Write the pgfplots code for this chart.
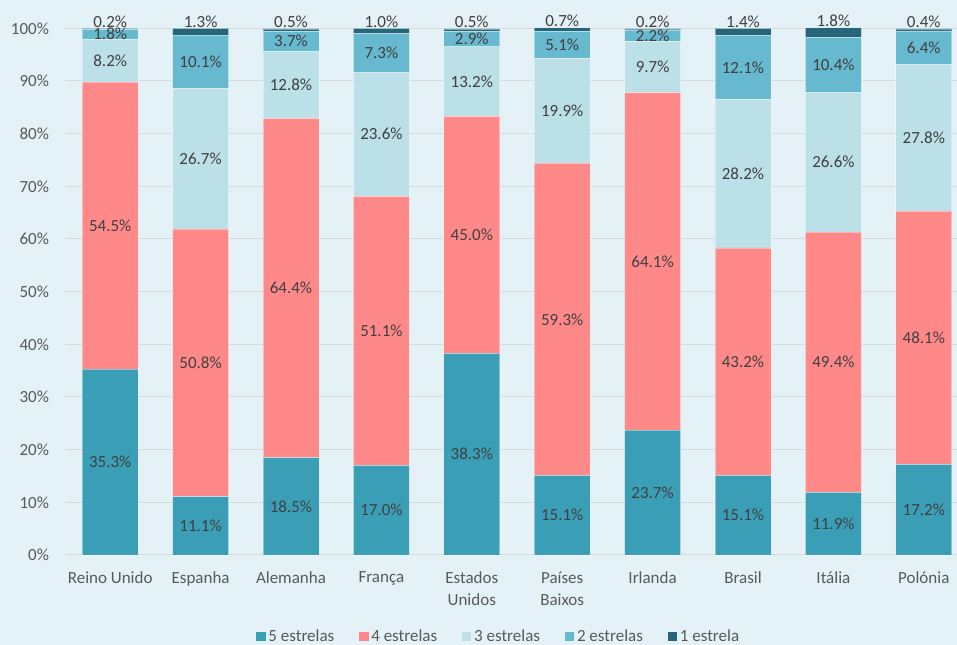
\documentclass[border=0pt]{standalone}
\usepackage{pgfplots}
\pgfplotsset{compat=1.18}
\usepackage{fontspec}
\setmainfont{Carlito}
\definecolor{bgc}{RGB}{228,242,247}
\definecolor{c5}{RGB}{58,159,182}
\definecolor{c4}{RGB}{255,137,137}
\definecolor{c3}{RGB}{188,224,232}
\definecolor{c2}{RGB}{103,185,208}
\definecolor{c1}{RGB}{38,102,122}
\definecolor{gridc}{RGB}{217,217,217}
\definecolor{lblc}{RGB}{64,64,64}
\definecolor{tickc}{RGB}{89,89,89}
\newcommand{\fs}{\fontsize{12.75}{16.5}\selectfont}
\pgfplotsset{
 mid/.style={nodes near coords={\pgfplotspointmeta\%}, point meta=explicit symbolic,
   every node near coord/.append style={anchor=center}},
 top/.style={nodes near coords={\pgfplotspointmeta\%}, point meta=explicit symbolic,
   every node near coord/.append style={anchor=center, yshift=5.1pt+1.975pt*\pgfplotspointmeta}},
}
\begin{document}
\begin{tikzpicture}
\path[use as bounding box, fill=bgc] (-48.75pt,-67.5pt) rectangle (669pt,416.25pt);
\begin{axis}[
 at={(0,0)}, anchor=south west,
 x=67.8pt, y=3.95pt,
 xmin=-0.5, xmax=9.37, ymin=0, ymax=100,
 ybar stacked, bar width=42pt,
 clip=false,
 axis line style={draw=none},
 major tick length=0pt,
 ymajorgrids, grid style={gridc, line width=0.75pt},
 ytick={0,10,20,30,40,50,60,70,80,90,100},
 yticklabels={0\%,10\%,20\%,30\%,40\%,50\%,60\%,70\%,80\%,90\%,100\%},
 xtick={0,1,2,3,4,5,6,7,8,9},
 xticklabels={Reino Unido, Espanha, Alemanha, França, {Estados\\Unidos}, {Países\\Baixos}, Irlanda, Brasil, Itália, Polónia},
 xticklabel style={align=center, font=\fs, text=tickc, yshift=-9pt},
 yticklabel style={font=\fs, text=tickc, xshift=-8.5pt},
 every node near coord/.append style={font=\fs, text=lblc},
 legend style={at={(0.4864,-0.1545)}, anchor=center, draw=none, fill=none,
   legend columns=5, font=\fs, text=tickc,
   /tikz/every even column/.append style={column sep=16.5pt}},
 legend image code/.code={\fill[#1, draw=none] (0pt,-3.6pt) rectangle (7.2pt,3.6pt);},
]
\addplot[fill=c5, draw=white, draw opacity=0.4, line width=0.5pt, mid] coordinates {
 (0,35.3) [35.3] (1,11.1) [11.1] (2,18.5) [18.5] (3,17.0) [17.0] (4,38.3) [38.3]
 (5,15.1) [15.1] (6,23.7) [23.7] (7,15.1) [15.1] (8,11.9) [11.9] (9,17.2) [17.2]};
\addplot[fill=c4, draw=white, draw opacity=0.4, line width=0.5pt, mid] coordinates {
 (0,54.5) [54.5] (1,50.8) [50.8] (2,64.4) [64.4] (3,51.1) [51.1] (4,45.0) [45.0]
 (5,59.3) [59.3] (6,64.1) [64.1] (7,43.2) [43.2] (8,49.4) [49.4] (9,48.1) [48.1]};
\addplot[fill=c3, draw=white, draw opacity=0.4, line width=0.5pt, mid] coordinates {
 (0,8.2) [8.2] (1,26.7) [26.7] (2,12.8) [12.8] (3,23.6) [23.6] (4,13.2) [13.2]
 (5,19.9) [19.9] (6,9.7) [9.7] (7,28.2) [28.2] (8,26.6) [26.6] (9,27.8) [27.8]};
\addplot[fill=c2, draw=white, draw opacity=0.4, line width=0.5pt, mid] coordinates {
 (0,1.8) [1.8] (1,10.1) [10.1] (2,3.7) [3.7] (3,7.3) [7.3] (4,2.9) [2.9]
 (5,5.1) [5.1] (6,2.2) [2.2] (7,12.1) [12.1] (8,10.4) [10.4] (9,6.4) [6.4]};
\addplot[fill=c1, draw=white, draw opacity=0.4, line width=0.5pt, top] coordinates {
 (0,0.2) [0.2] (1,1.3) [1.3] (2,0.5) [0.5] (3,1.0) [1.0] (4,0.5) [0.5]
 (5,0.7) [0.7] (6,0.2) [0.2] (7,1.4) [1.4] (8,1.8) [1.8] (9,0.4) [0.4]};
\legend{5 estrelas, 4 estrelas, 3 estrelas, 2 estrelas, 1 estrela}
\end{axis}
\end{tikzpicture}
\end{document}
